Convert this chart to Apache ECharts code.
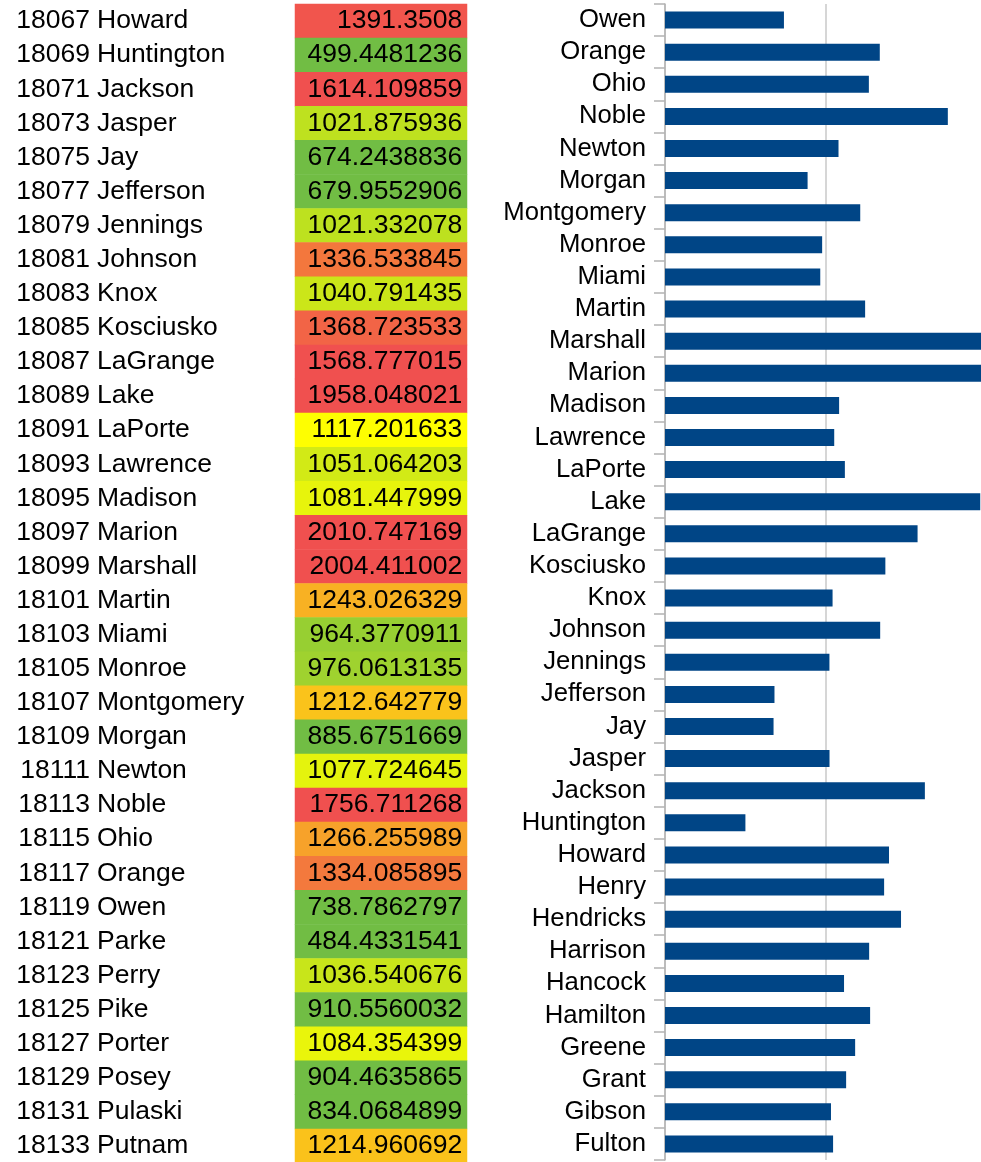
<!DOCTYPE html>
<html>
<head>
<meta charset="utf-8">
<title>Indiana counties</title>
<script src="https://cdn.jsdelivr.net/npm/echarts@6/dist/echarts.min.js"></script>
<style>
  html, body { margin: 0; padding: 0; background: #ffffff; }
  #chart { width: 981px; height: 1162px; }
</style>
</head>
<body>
<div id="chart"></div>
<script>
// County table: FIPS code, county name, value
const fipsCodes = ['18067','18069','18071','18073','18075','18077','18079','18081','18083','18085',
  '18087','18089','18091','18093','18095','18097','18099','18101','18103','18105','18107','18109',
  '18111','18113','18115','18117','18119','18121','18123','18125','18127','18129','18131','18133'];
const countyNames = ['Howard','Huntington','Jackson','Jasper','Jay','Jefferson','Jennings','Johnson',
  'Knox','Kosciusko','LaGrange','Lake','LaPorte','Lawrence','Madison','Marion','Marshall','Martin',
  'Miami','Monroe','Montgomery','Morgan','Newton','Noble','Ohio','Orange','Owen','Parke','Perry',
  'Pike','Porter','Posey','Pulaski','Putnam'];
const countyValues = [1391.3508, 499.4481236, 1614.109859, 1021.875936, 674.2438836, 679.9552906,
  1021.332078, 1336.533845, 1040.791435, 1368.723533, 1568.777015, 1958.048021, 1117.201633,
  1051.064203, 1081.447999, 2010.747169, 2004.411002, 1243.026329, 964.3770911, 976.0613135,
  1212.642779, 885.6751669, 1077.724645, 1756.711268, 1266.255989, 1334.085895, 738.7862797,
  484.4331541, 1036.540676, 910.5560032, 1084.354399, 904.4635865, 834.0684899, 1214.960692];

// Bar chart counties (bottom to top); those before Howard are not in the table above
const earlierCounties = ['Fulton','Gibson','Grant','Greene','Hamilton','Hancock','Harrison','Hendricks','Henry'];
const earlierValues = [1044, 1031, 1125, 1181, 1274, 1112, 1268, 1466, 1361];
const barCounties = earlierCounties.concat(countyNames.slice(0, 27));

// Colour scale anchors: value -> colour (green, yellow, red)
const scaleStops = [910, 1117, 1400];
const scaleColors = ['#71bd44', '#ffff00', '#f0504f'];

function hexToRgb(h) {
  return [parseInt(h.substr(1, 2), 16), parseInt(h.substr(3, 2), 16), parseInt(h.substr(5, 2), 16)];
}
function colourAt(v) {
  if (v <= scaleStops[0]) return scaleColors[0];
  for (let i = 1; i < scaleStops.length; i++) {
    if (v <= scaleStops[i]) {
      const t = (v - scaleStops[i - 1]) / (scaleStops[i] - scaleStops[i - 1]);
      const a = hexToRgb(scaleColors[i - 1]), b = hexToRgb(scaleColors[i]);
      const c = a.map((x, k) => Math.round(x + (b[k] - x) * t));
      return 'rgb(' + c.join(',') + ')';
    }
  }
  return scaleColors[scaleColors.length - 1];
}
// evenly spaced colour list for the continuous visualMap
const rampSteps = 98;
const rampColors = [];
for (let i = 0; i <= rampSteps; i++) {
  rampColors.push(colourAt(scaleStops[0] + (scaleStops[2] - scaleStops[0]) * i / rampSteps));
}

const valueByName = {};
countyNames.forEach((n, i) => { valueByName[n] = countyValues[i]; });
earlierCounties.forEach((n, i) => { valueByName[n] = earlierValues[i]; });
const barValues = barCounties.map(n => valueByName[n]);

const FONT = 'Liberation Sans, Arial, sans-serif';
const TABLE_FONT_SIZE = 26.5;
const chart = echarts.init(document.getElementById('chart'), null, { renderer: 'canvas' });

chart.setOption({
  animation: false,
  backgroundColor: '#ffffff',
  grid: [
    { left: 295, top: 4, width: 172, height: 1159, outerBoundsMode: 'none', containLabel: false },
    { left: 665, top: 4, width: 322, height: 1156, outerBoundsMode: 'none', containLabel: false }
  ],
  xAxis: [
    { gridIndex: 0, type: 'category', data: ['value'], show: false },
    {
      gridIndex: 1, type: 'value', min: 0, max: 2000, interval: 1000,
      axisLabel: { show: false }, axisTick: { show: false }, axisLine: { show: false },
      splitLine: { show: true, lineStyle: { color: '#c8c8c8', width: 1.5 } }
    }
  ],
  yAxis: [
    {
      gridIndex: 0, type: 'category', data: fipsCodes, inverse: true, position: 'left',
      axisLine: { show: false }, axisTick: { show: false },
      axisLabel: { interval: 0, margin: 205, align: 'right', fontSize: TABLE_FONT_SIZE, color: '#000',
        fontFamily: FONT, padding: [6, 0, 0, 0] }
    },
    {
      gridIndex: 0, type: 'category', data: countyNames, inverse: true, position: 'left',
      axisLine: { show: false }, axisTick: { show: false },
      axisLabel: { interval: 0, margin: 198, align: 'left', fontSize: TABLE_FONT_SIZE, color: '#000',
        fontFamily: FONT, padding: [6, 0, 0, 0] }
    },
    {
      gridIndex: 1, type: 'category', data: barCounties, position: 'left',
      axisLine: { show: true, lineStyle: { color: '#b3b3b3', width: 1.5 } },
      axisTick: { show: true, interval: 0, length: 11, lineStyle: { color: '#b3b3b3', width: 1.5 } },
      axisLabel: { interval: 0, margin: 19, fontSize: 25.7, color: '#000', fontFamily: FONT,
        padding: [4, 0, 0, 0] }
    }
  ],
  visualMap: {
    type: 'continuous', show: false, seriesIndex: 0, dimension: 2,
    min: scaleStops[0], max: scaleStops[2],
    inRange: { color: rampColors }
  },
  series: [
    {
      type: 'heatmap', xAxisIndex: 0, yAxisIndex: 0,
      data: countyValues.map((v, i) => [0, i, v]),
      itemStyle: { borderWidth: 0 },
      label: {
        show: true, position: 'insideRight', distance: 5,
        fontSize: TABLE_FONT_SIZE, color: '#000', fontFamily: FONT, padding: [6, 0, 0, 0],
        formatter: p => String(p.value[2])
      }
    },
    {
      type: 'bar', xAxisIndex: 1, yAxisIndex: 2,
      data: barValues, barWidth: 17,
      itemStyle: { color: '#004586' }
    }
  ]
});
</script>
</body>
</html>
